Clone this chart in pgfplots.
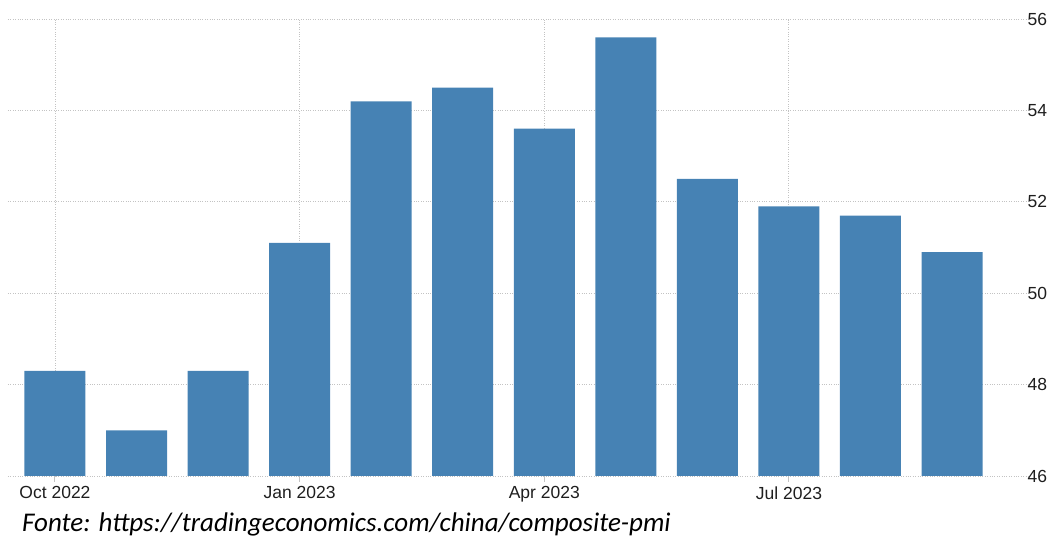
\documentclass[border=0pt]{standalone}
\usepackage{fontspec}
\setmainfont{Liberation Sans}
\newfontfamily\srcfont{Carlito}
\usepackage{pgfplots}
\pgfplotsset{compat=1.18}
\definecolor{barblue}{RGB}{70,130,180}
\definecolor{gridgray}{RGB}{195,195,195}
\definecolor{labelgray}{RGB}{30,30,30}

\begin{document}
\begin{tikzpicture}
\useasboundingbox (-8pt,-61pt) rectangle (1048pt,476pt);
\begin{axis}[
    at={(0pt,0pt)}, anchor=south west,
    scale only axis,
    width=1022pt, height=457pt,
    xmin=-0.576, xmax=11.956,
    ymin=46, ymax=56,
    ybar, bar width=61pt,
    axis line style={draw=none},
    xtick={0,3,6,9},
    xticklabels={Oct 2022, Jan 2023, Apr 2023, Jul 2023},
    ytick={46,48,...,56},
    ytick pos=right, yticklabel pos=right,
    xtick pos=bottom,
    xtick align=outside,
    major tick length=6pt,
    x tick style={gridgray, line width=1pt},
    y tick style={draw=none},
    ymajorgrids, xmajorgrids,
    grid style={gridgray, dotted, line width=0.9pt},
    tick label style={font=\fontsize{17.5}{20}\selectfont, text=labelgray},
    xticklabel style={yshift=-1pt},
    yticklabel style={xshift=-6pt},
    /pgf/number format/assume math mode=true,
]
\addplot[fill=barblue, draw=none] coordinates {
    (0,48.3) (1,47.0) (2,48.3) (3,51.1) (4,54.2) (5,54.5)
    (6,53.6) (7,55.6) (8,52.5) (9,51.9) (10,51.7) (11,50.9)
};
\end{axis}
\node[anchor=base west, inner sep=0pt, text=black, font=\srcfont\itshape\fontsize{27}{30}\selectfont]
    at (14pt,-56pt) {Fonte: https://tradingeconomics.com/china/composite-pmi};
\end{tikzpicture}
\end{document}
